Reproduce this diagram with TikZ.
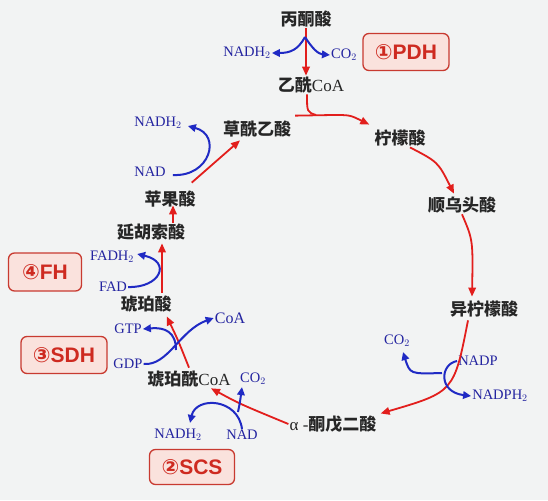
\documentclass[tikz,border=0pt]{standalone}
\usepackage{fontspec}
\setmainfont{Liberation Serif}
\newfontfamily\cjk{Noto Sans CJK SC}
\newfontfamily\symf{DejaVu Sans}
\newfontfamily\boxf{Liberation Sans}
\usetikzlibrary{arrows.meta,calc}
\definecolor{bg}{RGB}{242,243,243}
\definecolor{redc}{RGB}{226,30,28}
\definecolor{bluec}{RGB}{32,42,196}
\definecolor{bluet}{RGB}{36,36,160}
\definecolor{boxfill}{RGB}{250,226,221}
\definecolor{boxline}{RGB}{200,58,48}
\definecolor{boxtext}{RGB}{206,42,32}
\tikzset{
  cn/.style={font=\cjk\bfseries\fontsize{17}{19}\selectfont, text=black!85, inner sep=1pt},
  bl/.style={font=\fontsize{14.5}{16}\selectfont, text=bluet, inner sep=1pt},
  enz/.style={draw=boxline, line width=1.3pt, fill=boxfill, rounded corners=6pt,
    text=boxtext, font=\boxf\bfseries\fontsize{21}{24}\selectfont,
    minimum height=37pt, minimum width=86pt, inner sep=0pt},
  rd/.style={draw=redc, line width=1.8pt, -{Triangle[length=9pt,width=7.5pt]}},
  rdl/.style={draw=redc, line width=1.8pt},
  bu/.style={draw=bluec, line width=2pt, -{Triangle[length=8pt,width=7.5pt]}},
}
\begin{document}
\begin{tikzpicture}[x=1pt,y=-1pt]
\useasboundingbox[fill=bg] (0,0) rectangle (548,500);
% metabolites
\node[cn] (pyr) at (306,19) {丙酮酸};
\node[cn] (acoa) at (311,85) {乙酰{\rmfamily\mdseries CoA}};
\node[cn] (oaa) at (257,129) {草酰乙酸};
\node[cn] (cit) at (400,138) {柠檬酸};
\node[cn] (aco) at (462,205) {顺乌头酸};
\node[cn] (icit) at (484,309) {异柠檬酸};
\node[cn] (akg) at (333,424) {{\rmfamily\mdseries α -}酮戊二酸};
\node[cn] (sccoa) at (189,379) {琥珀酰{\rmfamily\mdseries CoA}};
\node[cn] (succ) at (146,304) {琥珀酸};
\node[cn] (fum) at (151,232) {延胡索酸};
\node[cn] (mal) at (170,199) {苹果酸};
% cofactors
\node[bl] (nadh1) at (247,53) {NADH$_2$};
\node[bl] (co2a) at (344,55) {CO$_2$};
\node[bl] (nadh2b) at (158,123) {NADH$_2$};
\node[bl] (nad1) at (150,172) {NAD};
\node[bl] (fadh2) at (112,257) {FADH$_2$};
\node[bl] (fad) at (113,287) {FAD};
\node[bl] (gtp) at (128,329) {GTP};
\node[bl] (gdp) at (128,364) {GDP};
\node[bl, font=\fontsize{16}{18}\selectfont] (coa) at (230,318) {CoA};
\node[bl] (co2b) at (253,379) {CO$_2$};
\node[bl] (nadh3) at (178,435) {NADH$_2$};
\node[bl] (nad2) at (242,435) {NAD};
\node[bl] (co2c) at (397,341) {CO$_2$};
\node[bl] (nadp) at (478,361) {NADP};
\node[bl] (nadph) at (500,396) {NADPH$_2$};
% enzymes
\node[enz] (pdh) at (406,52) {{\symf ①}PDH};
\node[enz, minimum width=73pt, minimum height=38pt] (fh) at (45,272) {{\symf ④}FH};
\node[enz] (sdh) at (64,355) {{\symf ③}SDH};
\node[enz, minimum width=85pt, minimum height=35pt] (scs) at (192,467) {{\symf ②}SCS};
% red cycle
\draw[rd] (pyr.south) -- (pyr.south |- acoa.north);
\coordinate (j1) at (316,115);
\draw[rdl] ($(acoa.south)+(-4,0)$) .. controls (307,112) .. (j1);
\draw[rd] ($(oaa.north east)+(3,-4)$) -- (333,115) .. controls (350,115) .. ($(cit.north west)+(-4,-4)$);
\draw[rd] ($(cit.south)+(10,0)$) .. controls (438,162) .. ($(aco.north)+(-8,-2)$);
\draw[rd] (aco.south) .. controls (473,240) .. ($(icit.north)+(-12,-3)$);
\draw[rd] ($(icit.south)+(-16,2)$) .. controls (454,392) .. ($(akg.north east)+(3,-1)$);
\draw[rd] (akg.west) .. controls (240,404) .. ($(sccoa.south)+(22,0)$);
\draw[rd] ($(sccoa.north)+(0,-2)$) .. controls (178,340) .. ($(succ.south east)+(-6,3)$);
\draw[rd] ($(succ.north)+(16,-2)$) -- ($(fum.south)+(11,2)$);
\draw[rd] ($(fum.north)+(22,0)$) -- ($(mal.south)+(3,-3)$);
\draw[rd] ($(mal.north east)+(-5,-7)$) -- ($(oaa.south)+(-17,2)$);
% blue side reactions
\coordinate (pb) at (305,37);
\draw[bu] (pb) .. controls (298,50) and (290,53) .. (nadh1.east);
\draw[bu] (pb) .. controls (312,48) and (318,54) .. (co2a.west);
\draw[bu] ($(nad1.east)+(6,3)$) .. controls (210,177) and (222,135) .. ($(nadh2b.east)+(5,3)$);
\draw[bu] (fad.east) .. controls (160,288) and (172,262) .. ($(fadh2.east)+(2,-3)$);
\draw[bu] (gdp.east) .. controls (168,366) and (180,330) .. (coa.west);
\coordinate (gx) at (176,350);
\draw[bu] (gx) .. controls (176,332) and (165,327) .. (gtp.east);
\draw[bu] (nad2.north) .. controls (238,398) and (196,396) .. ($(nadh3.north)+(12,-5)$);
\coordinate (c2s) at (238,412);
\draw[bu] (c2s) .. controls (240,402) .. ($(co2b.south west)+(3,1)$);
\draw[bu] (nadp.west) .. controls (440,364) and (438,392) .. (nadph.west);
\coordinate (nx) at (442,373);
\draw[bu] (nx) .. controls (410,374) .. ($(co2c.south)+(6,4)$);
\end{tikzpicture}
\end{document}
